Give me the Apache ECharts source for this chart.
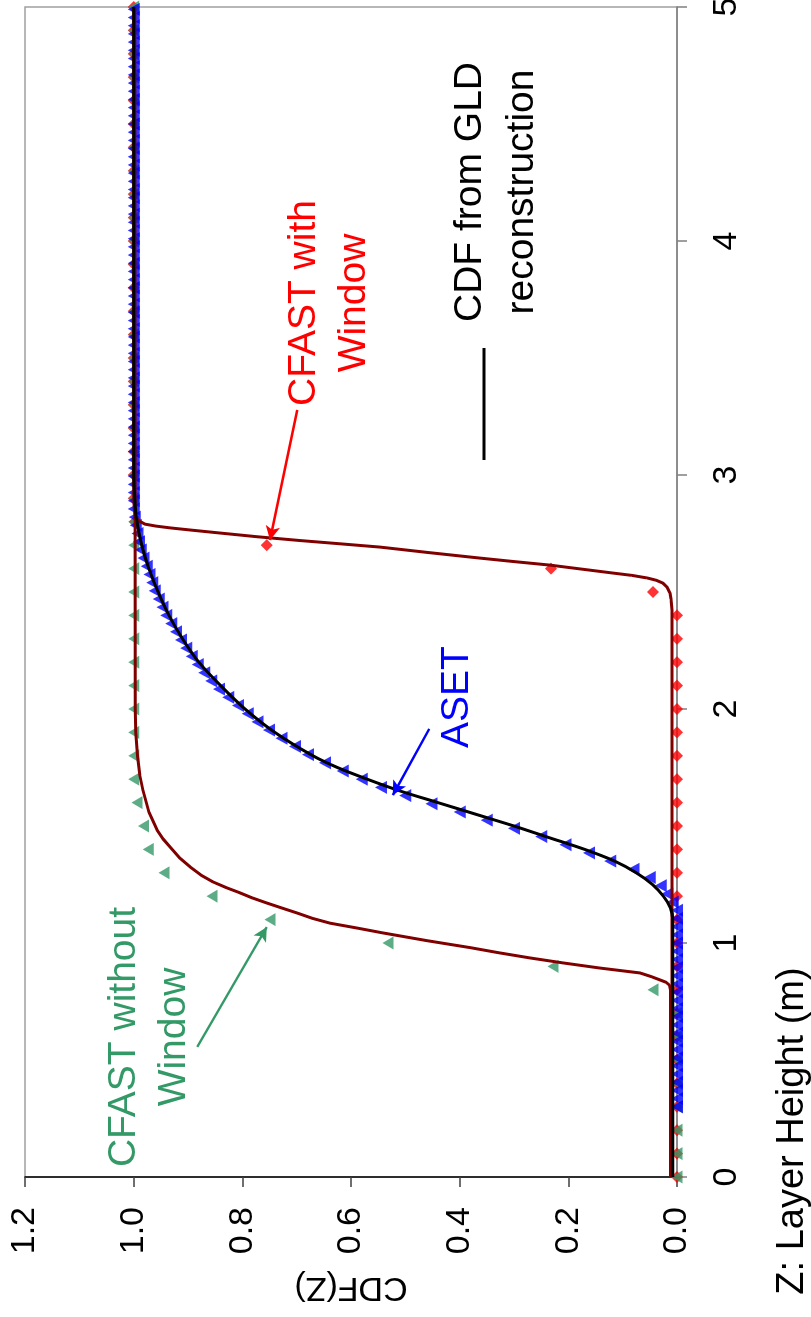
<!DOCTYPE html>
<html><head><meta charset="utf-8">
<script src="https://cdn.jsdelivr.net/npm/echarts@6/dist/echarts.min.js"></script>
<style>
html,body{margin:0;padding:0;width:811px;height:1317px;overflow:hidden;background:#fff;}
#chart{position:absolute;left:0;top:0;width:1317px;height:811px;transform-origin:0 0;transform:translate(0px,1317px) rotate(-90deg);}
</style></head><body><div id="chart"></div>
<script>
// ---- tick labels ----
const zTickLabels = ['0','1','2','3','4','5'];
const cdfTickLabels = ['0.0','0.2','0.4','0.6','0.8','1.0','1.2'];

// ---- CFAST with Window (red diamonds) and without Window (green triangles): Z every 0.1 ----
const cfastZ = [0,0.1,0.2,0.3,0.4,0.5,0.6,0.7,0.8,0.9,1.0,1.1,1.2,1.3,1.4,1.5,1.6,1.7,1.8,1.9,2.0,2.1,2.2,2.3,2.4,2.5,2.6,2.7,2.8,2.9,3.0,3.1,3.2,3.3,3.4,3.5,3.6,3.7,3.8,3.9,4.0,4.1,4.2,4.3,4.4,4.5,4.6,4.7,4.8,4.9,5.0];
const withWindowCdf = [0,0,0,0,0,0,0,0,0,0,0,0,0,0,0,0,0,0,0,0,0,0,0,0,0,0.044,0.232,0.755,0.998,1,1,1,1,1,1,1,1,1,1,1,1,1,1,1,1,1,1,1,1,1,1];
const withoutWindowCdf = [0,0,0,0,0,0,0,0,0.044,0.228,0.532,0.749,0.856,0.944,0.973,0.982,0.994,1,1,1,1,1,1,1,1,1,1,1,1,1,1,1,1,1,1,1,1,1,1,1,1,1,1,1,1,1,1,1,1,1,1];

// ---- ASET (blue triangles) ----
const asetZ = [0.3,0.335,0.37,0.405,0.44,0.475,0.51,0.545,0.58,0.615,
0.65,0.685,0.72,0.755,0.79,0.825,0.86,0.895,0.93,0.965,
1.0,1.035,1.07,1.105,1.14,1.175,1.21,1.245,1.28,1.315,
1.35,1.385,1.42,1.455,1.49,1.525,1.56,1.595,1.63,1.665,
1.7,1.735,1.77,1.805,1.84,1.875,1.91,1.945,1.98,2.015,
2.05,2.085,2.12,2.155,2.19,2.225,2.26,2.295,2.33,2.365,
2.4,2.435,2.47,2.505,2.54,2.575,2.61,2.645,2.68,2.715,
2.75,2.785,2.82,2.855,2.89,2.925,2.96,2.995,3.03,3.065,
3.1,3.135,3.17,3.205,3.24,3.275,3.31,3.345,3.38,3.415,
3.45,3.485,3.52,3.555,3.59,3.625,3.66,3.695,3.73,3.765,
3.8,3.835,3.87,3.905,3.94,3.975,4.01,4.045,4.08,4.115,
4.15,4.185,4.22,4.255,4.29,4.325,4.36,4.395,4.43,4.465,
4.5,4.535,4.57,4.605,4.64,4.675,4.71,4.745,4.78,4.815,
4.85,4.885,4.92,4.955,4.99];
const asetCdf = [0,0,0,0,0,0,0,0,0,0,
0,0,0,0,0,0,0,0,0,0,
0,0,0,0,0,0.008,0.018,0.03,0.05,0.08,
0.123,0.162,0.205,0.25,0.3,0.35,0.4,0.452,0.5,0.545,
0.58,0.615,0.648,0.679,0.703,0.728,0.751,0.772,0.79,0.808,
0.826,0.843,0.857,0.87,0.882,0.893,0.903,0.913,0.922,0.931,
0.94,0.947,0.954,0.961,0.966,0.971,0.976,0.982,0.987,0.99,
0.993,0.996,0.998,1,1,1,1,1,1,1,
1,1,1,1,1,1,1,1,1,1,
1,1,1,1,1,1,1,1,1,1,
1,1,1,1,1,1,1,1,1,1,
1,1,1,1,1,1,1,1,1,1,
1,1,1,1,1,1,1,1,1,1,
1,1,1,1,1];

// ---- CDF from GLD reconstruction (black line) ----
const gldZ = [0,1.1,1.15,1.2,1.25,1.3,1.35,1.4,1.45,1.5,1.55,1.6,1.65,1.7,1.75,1.8,1.9,2.0,2.1,2.2,2.3,2.4,2.5,2.6,2.7,2.8,2.9,3.0,5.0];
const gldCdf = [0.008,0.008,0.012,0.025,0.045,0.075,0.115,0.17,0.235,0.3,0.37,0.44,0.51,0.57,0.625,0.67,0.74,0.795,0.84,0.88,0.91,0.935,0.955,0.972,0.985,0.994,0.998,1,1];

// ---- dark red fitted curves ----
const fitNoWinZ = [0,0.8,0.82,0.832,0.842,0.856,0.872,0.893,0.915,0.936,0.958,0.98,1.01,1.043,1.064,1.085,1.106,1.128,1.15,1.171,1.192,1.214,1.237,1.261,1.29,1.325,1.365,1.41,1.445,1.483,1.56,1.654,1.72,1.8,1.9,2.0,5.0];
const fitNoWinCdf = [0.012,0.012,0.014,0.02,0.031,0.047,0.068,0.142,0.21,0.27,0.327,0.38,0.46,0.541,0.589,0.639,0.672,0.699,0.728,0.755,0.781,0.804,0.83,0.854,0.876,0.896,0.916,0.933,0.946,0.957,0.972,0.983,0.989,0.993,0.996,0.997,0.998];
const fitWinZ = [0,2.423,2.47,2.496,2.52,2.538,2.55,2.56,2.571,2.581,2.598,2.615,2.63,2.645,2.668,2.692,2.706,2.72,2.736,2.752,2.764,2.774,2.782,2.79,2.805,2.82,2.86,2.9,5.0];
const fitWinCdf = [0.009,0.009,0.011,0.013,0.018,0.026,0.038,0.055,0.083,0.118,0.176,0.234,0.3,0.363,0.455,0.547,0.62,0.694,0.772,0.841,0.892,0.933,0.96,0.979,0.991,0.997,0.999,1,1];

// ---- annotation arrows (data units: [Z, CDF]) ----
const arrowNoWin = [[0.556,0.883],[1.068,0.755]];
const arrowAset = [[1.915,0.456],[1.632,0.523]];
const arrowWin = [[3.278,0.699],[2.722,0.749]];

const zip = (a,b) => a.map((v,i)=>[v,b[i]]);
const FONT = '"Liberation Sans", Arial, sans-serif';
const RED='#FF0000', GREEN='#339966', BLUE='#0000FF', DARKRED='#800000';

function arrowML(pts, color){
  return {silent:true, animation:false, symbol:['none','arrow'], symbolSize:[11,14],
    lineStyle:{type:'solid', width:2.5, color:color}, label:{show:false},
    emphasis:{disabled:true},
    data:[[{coord:pts[0]},{coord:pts[1]}]]};
}

const chart = echarts.init(document.getElementById('chart'), null, {renderer:'canvas'});
chart.setOption({
  animation:false,
  backgroundColor:'#fff',
  textStyle:{fontFamily:FONT},
  grid:{left:140, right:7, top:25, bottom:134, show:true, borderColor:'#a0a0a0', borderWidth:1.5, outerBoundsMode:'none', containLabel:false},
  xAxis:{type:'value', min:0, max:5, interval:1,
    axisLine:{show:true, onZero:false, lineStyle:{color:'#808080', width:1.5}},
    axisTick:{show:true, inside:false, length:10, lineStyle:{color:'#808080', width:1.5}},
    axisLabel:{fontSize:34, color:'#000', margin:33, fontFamily:FONT, formatter:(v)=>zTickLabels[Math.round(v)]},
    splitLine:{show:false}},
  yAxis:{type:'value', min:0, max:1.2, interval:0.2,
    name:'CDF(Z)', nameLocation:'middle', nameGap:93, nameRotate:90,
    nameTextStyle:{fontSize:34, color:'#000', fontFamily:FONT},
    axisLine:{show:true, onZero:false, lineStyle:{color:'#000', width:1.5}},
    axisTick:{show:true, inside:false, length:10, lineStyle:{color:'#404040', width:1.5}},
    axisLabel:{fontSize:34, color:'#000', margin:30, fontFamily:FONT, formatter:(v)=>cdfTickLabels[Math.round(v/0.2)]},
    splitLine:{show:false}},
  graphic:[
    {type:'text', x:1125, y:496, silent:true, style:{text:'CDF from GLD\nreconstruction', fill:'#000', fontSize:39, fontFamily:FONT, align:'center', verticalAlign:'middle', lineHeight:52}},
    {type:'line', silent:true, shape:{x1:857, y1:484, x2:969, y2:484}, style:{stroke:'#000', lineWidth:3}},
    {type:'text', x:1014, y:329, silent:true, style:{text:'CFAST with\nWindow', fill:RED, fontSize:39, fontFamily:FONT, align:'center', verticalAlign:'middle', lineHeight:50}},
    {type:'text', x:620, y:457, silent:true, style:{text:'ASET', fill:BLUE, fontSize:39, fontFamily:FONT, align:'center', verticalAlign:'middle'}},
    {type:'text', x:280, y:149, silent:true, style:{text:'CFAST without\nWindow', fill:GREEN, fontSize:39, fontFamily:FONT, align:'center', verticalAlign:'middle', lineHeight:50}},
    {type:'text', x:186, y:793, silent:true, style:{text:'Z: Layer Height (m)', fill:'#000', fontSize:38, fontFamily:FONT, align:'center', verticalAlign:'middle'}}
  ],
  series:[
    {name:'CFAST with Window', type:'scatter', data:zip(cfastZ, withWindowCdf), symbol:'diamond', symbolSize:12,
      itemStyle:{color:RED}, markLine:arrowML(arrowWin, RED)},
    {name:'CFAST without Window', type:'scatter', data:zip(cfastZ, withoutWindowCdf), symbol:'triangle', symbolSize:[13,11],
      itemStyle:{color:GREEN}, markLine:arrowML(arrowNoWin, GREEN)},
    {name:'CFAST without Window fit', type:'line', data:zip(fitNoWinZ, fitNoWinCdf), showSymbol:false, symbol:'none',
      lineStyle:{color:DARKRED, width:3, join:'round'}},
    {name:'CFAST with Window fit', type:'line', data:zip(fitWinZ, fitWinCdf), showSymbol:false, symbol:'none',
      lineStyle:{color:DARKRED, width:3, join:'round'}},
    {name:'CDF from GLD reconstruction', type:'line', data:zip(gldZ, gldCdf), showSymbol:false, symbol:'none', smooth:0.3,
      lineStyle:{color:'#000', width:3}},
    {name:'ASET', type:'scatter', data:zip(asetZ, asetCdf), symbol:'triangle', symbolSize:[13,12],
      itemStyle:{color:BLUE}, markLine:arrowML(arrowAset, BLUE)}
  ]
});
</script></body></html>
